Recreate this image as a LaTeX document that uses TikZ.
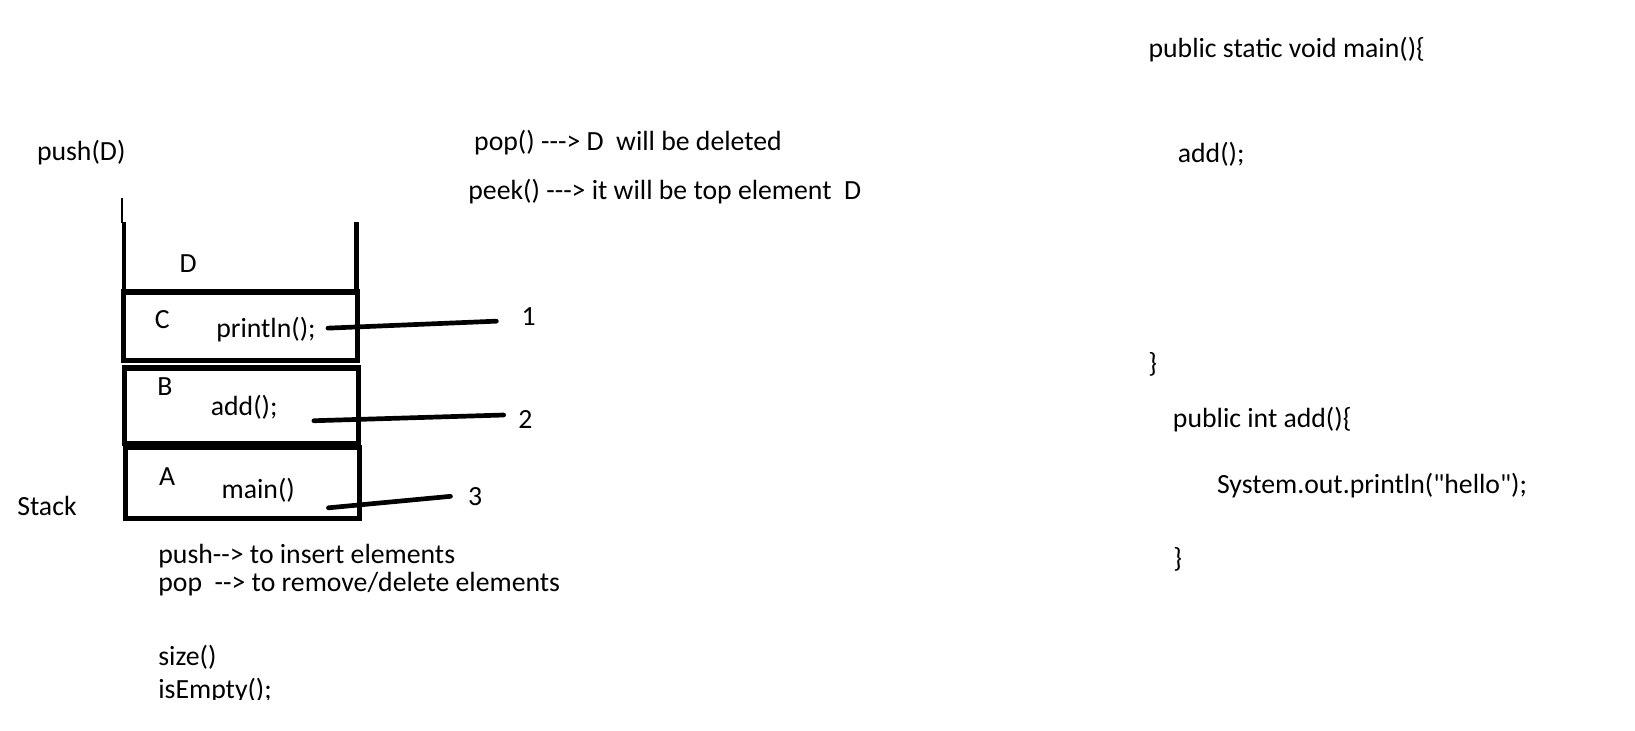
\documentclass[tikz,border=0pt]{standalone}
\usepackage{fontspec}
\setmainfont{Carlito}[Ligatures=TeXOff]
\begin{document}
\begin{tikzpicture}[x=1pt,y=-1pt,
  txt/.style={font=\fontsize{26.6}{31}\selectfont, inner sep=0pt, anchor=base west},
  cell/.style={draw, rectangle, line width=5pt, inner sep=0pt},
  wall/.style={line width=4.5pt},
  link/.style={line width=4.5pt, line cap=round}]
\useasboundingbox[fill=white] (0,0) rectangle (1568,701);

% stack
\node[cell, minimum width=224pt, minimum height=66pt] (boxC) at (230.5,313) {};
\node[cell, minimum width=224pt, minimum height=72.5pt] (boxB) at (231.5,389.25) {};
\node[cell, minimum width=224.5pt, minimum height=68.5pt] (boxA) at (232.25,463.25) {};
\coordinate (lt) at (119,213);
\coordinate (lb) at (119,281);
\coordinate (rt) at (342,213);
\coordinate (rb) at (342,281);
\coordinate (tt) at (117,190);
\coordinate (tb) at (117,214);
\draw[wall] (lt) -- (lb);
\draw[wall] (rt) -- (rb);
\draw[line width=1.3pt] (tt) -- (tb);

\node[txt] (pushD) at (35.3,154) {push(D)};
\node[txt] (D) at (172,261.5) {D};
\node[txt] (C) at (148.3,315) {C};
\node[txt] (println) at (207.2,324) {println();};
\node[txt] (B) at (150.7,379) {B};
\node[txt] (addc) at (202,398) {add();};
\node[txt] (A) at (152.4,466) {A};
\node[txt] (mainc) at (212.4,477.7) {main()};
\node[txt] (stack) at (16.4,494) {Stack};

\node[txt] (n1) at (500,312) {1};
\node[txt] (n2) at (497,410.7) {2};
\node[txt] (n3) at (448.7,484.5) {3};
\coordinate (a1) at (314.5,314.7);
\coordinate (b1) at (476,308);
\coordinate (a2) at (301,403.5);
\coordinate (b2) at (483,398);
\coordinate (a3) at (315,487);
\coordinate (b3) at (432,476);
\draw[link] (a1) -- (b1);
\draw[link] (a2) -- (b2);
\draw[link] (a3) -- (b3);

\node[txt] (popline) at (454.6,144) {pop() ---> D\ \ will be deleted};
\node[txt] (peekline) at (449,191.8) {peek() ---> it will be top element\ \ D};

\node[txt] (pushdesc) at (151.7,540) {push--> to insert elements};
\node[txt] (popdesc) at (151.7,567.5) {pop\ \ --> to remove/delete elements};
\node[txt] (size) at (151.7,638.4) {size()};
\begin{scope}
\clip (0,0) rectangle (1568,671);
\node[txt] (isempty) at (151.7,670) {isEmpty();};
\end{scope}

% code
\node[txt] (psvm) at (1101.3,55.1) {public static void main()\{};
\node[txt] (addcall) at (1129.4,156.2) {add();};
\node[txt] (close1) at (1101,357) {\}};
\node[txt] (pia) at (1124.7,409.6) {public int add()\{};
\node[txt] (sysout) at (1167,473) {System.out.println("hello");};
\node[txt] (close2) at (1125,544) {\}};
\end{tikzpicture}
\end{document}
